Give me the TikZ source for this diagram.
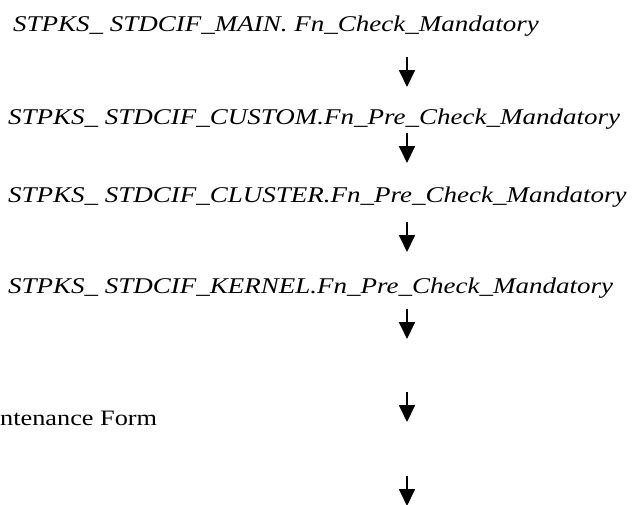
\documentclass[tikz,border=0pt]{standalone}
\usepackage{fontspec}
\setmainfont{Liberation Serif}
\newfontfamily\callfont[FakeStretch=1.2]{Liberation Serif}
\newfontfamily\formfont[FakeStretch=1.195]{Liberation Serif}
\usepackage{tikz}
\usetikzlibrary{arrows.meta}

\tikzset{
  call/.style={anchor=base west, inner sep=0pt, font=\callfont\fontsize{22.5}{27}\selectfont\itshape},
  plain/.style={anchor=base west, inner sep=0pt, font=\formfont\fontsize{22}{26}\selectfont},
  flow/.style={line width=1.8pt, -{Triangle[width=16pt,length=17pt]}}
}

\begin{document}
\begin{tikzpicture}[x=1pt, y=-1pt]
\useasboundingbox (0,0) rectangle (632,504);

\coordinate (a1) at (407,57);
\coordinate (a2) at (407,133);
\coordinate (a3) at (407,222);
\coordinate (a4) at (407,309);
\coordinate (a5) at (407,392);
\coordinate (a6) at (407,476);

\node[call] (main) at (13,31) {STPKS\_ STDCIF\_MAIN. Fn\_Check\_Mandatory};
\node[call] (custom) at (8,124) {STPKS\_ STDCIF\_CUSTOM.Fn\_Pre\_Check\_Mandatory};
\node[call] (cluster) at (8,202) {STPKS\_ STDCIF\_CLUSTER.Fn\_Pre\_Check\_Mandatory};
\node[call] (kernel) at (8,293) {STPKS\_ STDCIF\_KERNEL.Fn\_Pre\_Check\_Mandatory};
\node[plain] (form) at (0,425) {ntenance Form};

\foreach \i in {1,...,6}
  \draw[flow] (a\i) -- ++(0,30);
\end{tikzpicture}
\end{document}
